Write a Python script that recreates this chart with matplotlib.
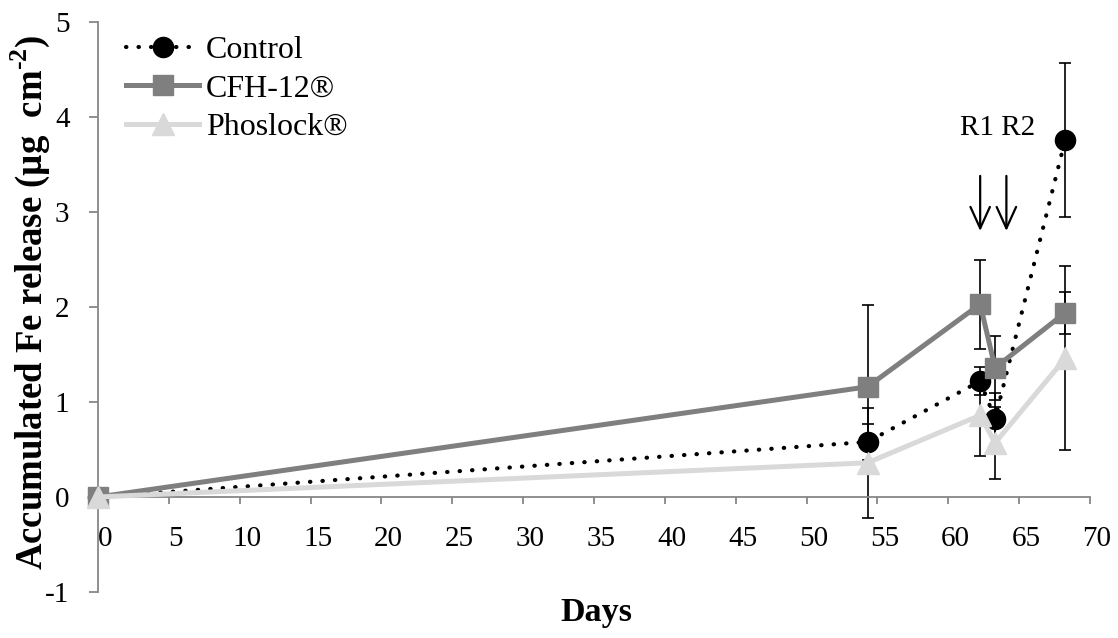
import matplotlib
matplotlib.use('Agg')
import matplotlib.pyplot as plt
import matplotlib.transforms as mtransforms

plt.rcParams['font.family'] = ['Liberation Serif', 'DejaVu Serif']
plt.rcParams['axes.unicode_minus'] = False
plt.rcParams['mathtext.fontset'] = 'custom'
plt.rcParams['mathtext.rm'] = 'Liberation Serif:bold'
plt.rcParams['mathtext.bf'] = 'Liberation Serif:bold'

# data
days = [0, 54.3, 62.25, 63.3, 68.25]
control = [0, 0.58, 1.22, 0.82, 3.76]
control_err = [0, 0.19, 0.15, 0.28, 0.81]
cfh = [0, 1.16, 2.03, 1.36, 1.94]
cfh_err = [0, 0.86, 0.47, 0.34, 0.22]
phoslock = [0, 0.36, 0.86, 0.57, 1.46]
phoslock_err = [0, 0.58, 0.43, 0.38, 0.97]

x_ticks = list(range(0, 75, 5))
y_ticks = [-1, 0, 1, 2, 3, 4, 5]

axis_grey = '#878787'

fig = plt.figure(figsize=(11.18, 6.38), dpi=100)
ax = fig.add_axes([98 / 1118, 1 - 592 / 638, (1090 - 98) / 1118, 570 / 638])

# error bars (behind the markers)
for y, e in [(control, control_err), (cfh, cfh_err), (phoslock, phoslock_err)]:
    ax.errorbar(days[1:], y[1:], yerr=e[1:], fmt='none', ecolor='black',
                elinewidth=1.2, capsize=4.3, capthick=1.2, zorder=2, clip_on=False)

ax.plot(days, control, color='black', linestyle=(0, (0.1, 2.9)), linewidth=3,
        dash_capstyle='round', marker='o', markersize=14.5, label='Control',
        zorder=3, clip_on=False)
ax.plot(days, cfh, color='#7f7f7f', linewidth=3.6, marker='s', markersize=15,
        label='CFH-12®', zorder=4, clip_on=False)
ax.plot(days, phoslock, color='#d9d9d9', linewidth=3.6, marker='^', markersize=16,
        label='Phoslock®', zorder=5, clip_on=False)

ax.set_xlim(0, 70)
ax.set_ylim(-1, 5)
ax.set_xticks(x_ticks)
ax.set_yticks(y_ticks)

for side in ['top', 'right']:
    ax.spines[side].set_visible(False)
ax.spines['bottom'].set_position(('data', 0))
ax.spines['bottom'].set_color(axis_grey)
ax.spines['left'].set_color(axis_grey)
ax.spines['bottom'].set_linewidth(1.3)
ax.spines['left'].set_linewidth(1.3)

ax.tick_params(axis='x', direction='out', length=5, width=1.3, color=axis_grey,
               labelsize=21, pad=16)
ax.tick_params(axis='y', direction='out', length=6.5, width=1.3, color=axis_grey,
               labelsize=21, pad=14)
offset = mtransforms.ScaledTranslation(7 / 100, 0, fig.dpi_scale_trans)
for lab in ax.get_xticklabels():
    lab.set_transform(lab.get_transform() + offset)

# R1 / R2 arrows
ax.text(63.5, 3.88, 'R1 R2', fontsize=21, ha='center', va='center')
for xa in [62.25, 64.1]:
    ax.annotate('', xy=(xa, 2.8), xytext=(xa, 3.38),
                arrowprops=dict(arrowstyle='->,head_length=1.1,head_width=0.5',
                                lw=1.6, color='black', mutation_scale=14,
                                shrinkA=0, shrinkB=0))

fig.text(596 / 1118, 1 - 612 / 638, 'Days', fontsize=24.5, fontweight='bold',
         ha='center', va='center')
fig.text(30 / 1118, 1 - 302 / 638,
         r'Accumulated Fe release (µg  cm$^{\text{-2}}$)',
         fontsize=26.5, fontweight='bold', rotation=90, ha='center', va='center')

ax.legend(loc='upper left', bbox_to_anchor=(113 / 1118, 1 - 23 / 638),
          bbox_transform=fig.transFigure, frameon=False,
          prop={'family': 'Liberation Serif', 'size': 23},
          handlelength=2.3, handletextpad=0.2, labelspacing=0.28,
          numpoints=1, borderaxespad=0)

fig.savefig('out.png', dpi=100)
